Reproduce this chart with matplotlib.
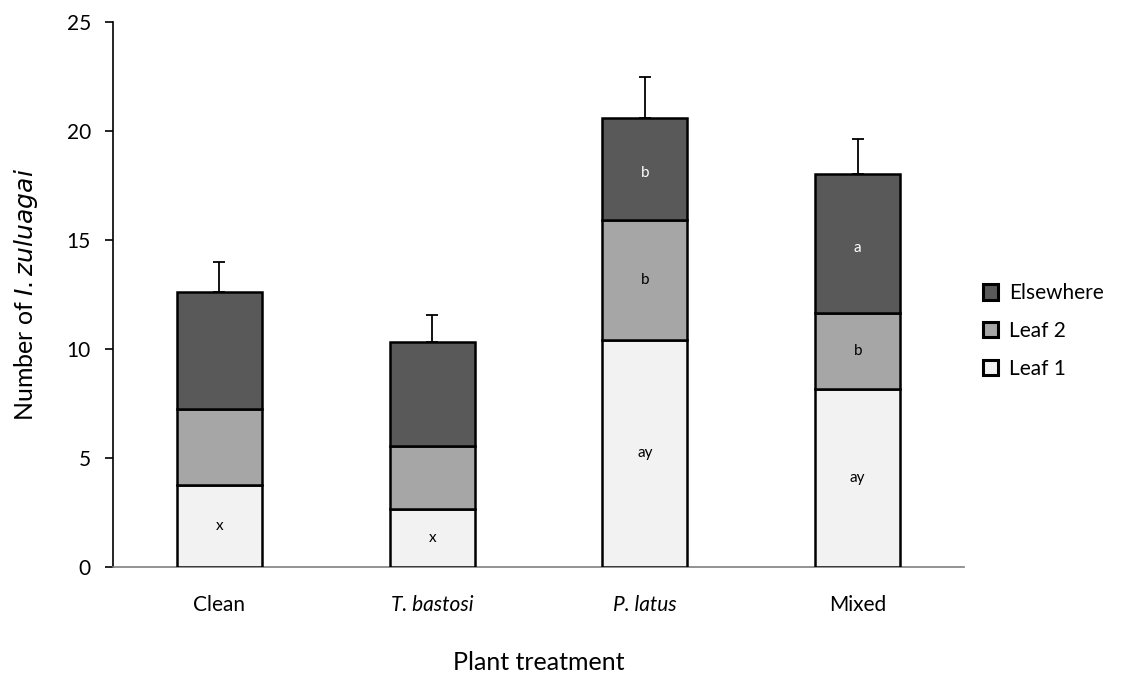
import numpy as np
import matplotlib.pyplot as plt

plt.rcParams['font.family'] = ['Lato', 'DejaVu Sans']

# Data
treatments = ['Clean', 'T. bastosi', 'P. latus', 'Mixed']
italic = [False, True, True, False]
leaf1 = [3.75, 2.64, 10.43, 8.18]
leaf2 = [3.50, 2.92, 5.49, 3.48]
elsewhere = [5.38, 4.78, 4.68, 6.37]
err = [1.36, 1.24, 1.87, 1.59]

lab_leaf1 = ['x', 'x', 'ay', 'ay']
lab_leaf2 = ['', '', 'b', 'b']
lab_else = ['', '', 'b', 'a']

colors = ['#f2f2f2', '#a6a6a6', '#595959']
names = ['Leaf 1', 'Leaf 2', 'Elsewhere']

fig = plt.figure(figsize=(11.21, 6.73), dpi=100)
ax = fig.add_axes([0.1008, 0.1575, 0.7592, 0.8098])

x = np.arange(len(treatments))
w = 0.4
bottom = np.zeros(len(treatments))
handles = []
for vals, col, name in zip([leaf1, leaf2, elsewhere], colors, names):
    b = ax.bar(x, vals, w, bottom=bottom, color=col, edgecolor='black',
               linewidth=1.8, label=name, zorder=3)
    handles.append(b)
    bottom = bottom + np.array(vals)

# error bars, upward only
ax.errorbar(x, bottom, yerr=[np.zeros(len(err)), err], fmt='none',
            ecolor='black', elinewidth=1.3, capsize=4, capthick=1.3, zorder=2)

# significance letters
b1 = np.array(leaf1)
b2 = b1 + np.array(leaf2)
for i in range(len(x)):
    ax.text(x[i], b1[i] / 2, lab_leaf1[i], ha='center', va='center',
            fontsize=11, color='black', zorder=4)
    ax.text(x[i], b1[i] + leaf2[i] / 2, lab_leaf2[i], ha='center', va='center',
            fontsize=11, color='black', zorder=4)
    ax.text(x[i], b2[i] + elsewhere[i] / 2 - 0.2, lab_else[i], ha='center',
            va='center', fontsize=11, color='white', zorder=4)

ax.set_xlim(-0.5, 3.5)
ax.set_ylim(0, 25)
ax.set_yticks(range(0, 26, 5))
ax.set_xticks(x)
ax.set_xticklabels(treatments)
for lbl, it in zip(ax.get_xticklabels(), italic):
    if it:
        lbl.set_style('italic')
ax.tick_params(axis='x', length=0, pad=20, labelsize=15)
ax.tick_params(axis='y', direction='out', length=6, width=1.2, pad=10,
               labelsize=15)

for s in ['top', 'right']:
    ax.spines[s].set_visible(False)
ax.spines['left'].set_linewidth(1.2)
ax.spines['bottom'].set_color('#808080')
ax.spines['bottom'].set_linewidth(1.2)

ax.set_ylabel('Number of $\\it{I. zuluagai}$', fontsize=18, labelpad=19)
ax.set_xlabel('Plant treatment', fontsize=18, labelpad=26)

leg = ax.legend(handles[::-1], names[::-1], loc='center left',
                bbox_to_anchor=(1.0, 0.433), frameon=False, fontsize=15,
                handlelength=0.75, handleheight=0.75, handletextpad=0.5,
                labelspacing=0.85)
for h in leg.legend_handles:
    h.set_linewidth(2.2)

fig.savefig('out.png', dpi=100)
